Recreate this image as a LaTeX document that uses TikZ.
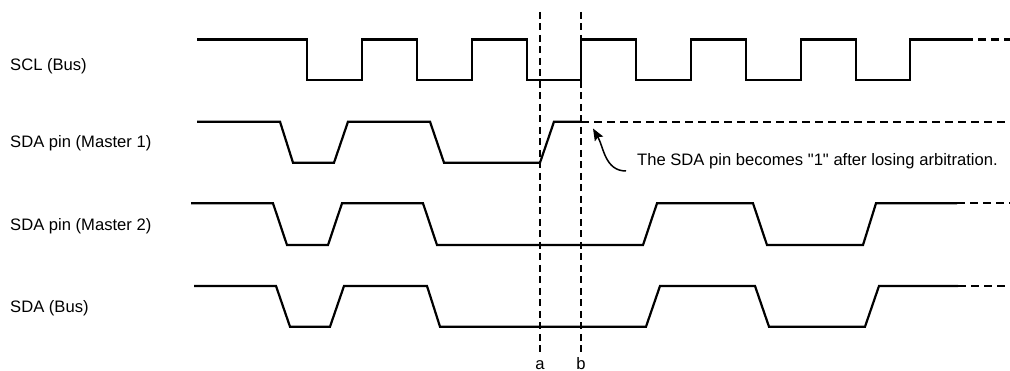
\documentclass[tikz,border=0pt]{standalone}
\usepackage{fontspec}
\setmainfont{Liberation Sans}[Ligatures=TeXOff]
\usetikzlibrary{arrows.meta}
\begin{document}
\begin{tikzpicture}[x=1pt,y=-1pt,
  wave/.style={line width=2.2pt, line join=miter},
  ext/.style={line width=2.2pt, dash pattern=on 8pt off 5pt},
  marker/.style={line width=1.5pt, dash pattern=on 7pt off 4.5pt},
  lbl/.style={font=\fontsize{16.6}{18}\selectfont, anchor=base west, inner sep=0pt},
  mk/.style={font=\fontsize{16.6}{18}\selectfont, anchor=base, inner sep=0pt},
]
\useasboundingbox (0,0) rectangle (1010,371);

% time markers a and b
\coordinate (atop) at (540,12);
\coordinate (abot) at (540,352);
\coordinate (btop) at (581,12);
\coordinate (bbot) at (581,352);
\draw[marker] (atop) -- (abot);
\draw[marker] (btop) -- (bbot);
\node[mk] (la) at (540,369.5) {a};
\node[mk] (lb) at (581,369.5) {b};

% signal labels
\node[lbl] (scl)  at (10,70.5) {SCL (Bus)};
\node[lbl] (sda1) at (10,148)  {SDA pin (Master 1)};
\node[lbl] (sda2) at (10,231)  {SDA pin (Master 2)};
\node[lbl] (sdab) at (10,313)  {SDA (Bus)};

% SCL (Bus)
\draw[wave] (197,39.5) -- (307,39.5) -- (307,80) -- (362,80) -- (362,39.5) -- (417,39.5) -- (417,80) -- (472,80) -- (472,39.5) -- (527,39.5) -- (527,80) -- (581,80) -- (581,39.5) -- (636,39.5) -- (636,80) -- (691,80) -- (691,39.5) -- (746,39.5) -- (746,80) -- (801,80) -- (801,39.5) -- (856,39.5) -- (856,80) -- (910,80) -- (910,39.5) -- (965,39.5);
\draw[ext] (965,39.5) -- (1010,39.5);

% SDA pin (Master 1)
\draw[wave] (197,121.7) -- (280,121.7) -- (293,162.7) -- (334,162.7) -- (348,121.7) -- (430,121.7) -- (444,162.7) -- (540,162.7) -- (554,121.7) -- (581,121.7);
\draw[ext] (581,121.7) -- (1010,121.7);

% SDA pin (Master 2)
\draw[wave] (191,203.3) -- (273,203.3) -- (287,245) -- (328,245) -- (342,203.3) -- (423,203.3) -- (437,245) -- (643,245) -- (657,203.3) -- (753,203.3) -- (767,245) -- (863,245) -- (876,203.3) -- (957,203.3);
\draw[ext] (957,203.3) -- (1010,203.3);

% SDA (Bus)
\draw[wave] (194,286) -- (276,286) -- (290,326.7) -- (330,326.7) -- (344,286) -- (427,286) -- (440,326.7) -- (646,326.7) -- (660,286) -- (755,286) -- (769,326.7) -- (865,326.7) -- (879,286) -- (958,286);
\draw[ext] (958,286) -- (1010,286);

% annotation
\node[lbl] (note) at (637,166) {The SDA pin becomes "1" after losing arbitration.};
\coordinate (tip) at (593,128.5);
\draw[line width=1.5pt, -{Stealth[length=12pt,width=9.5pt,inset=2pt]}] ([xshift=-11pt,yshift=-5pt]note.base west) to[out=180,in=-60] (tip);
\end{tikzpicture}
\end{document}
